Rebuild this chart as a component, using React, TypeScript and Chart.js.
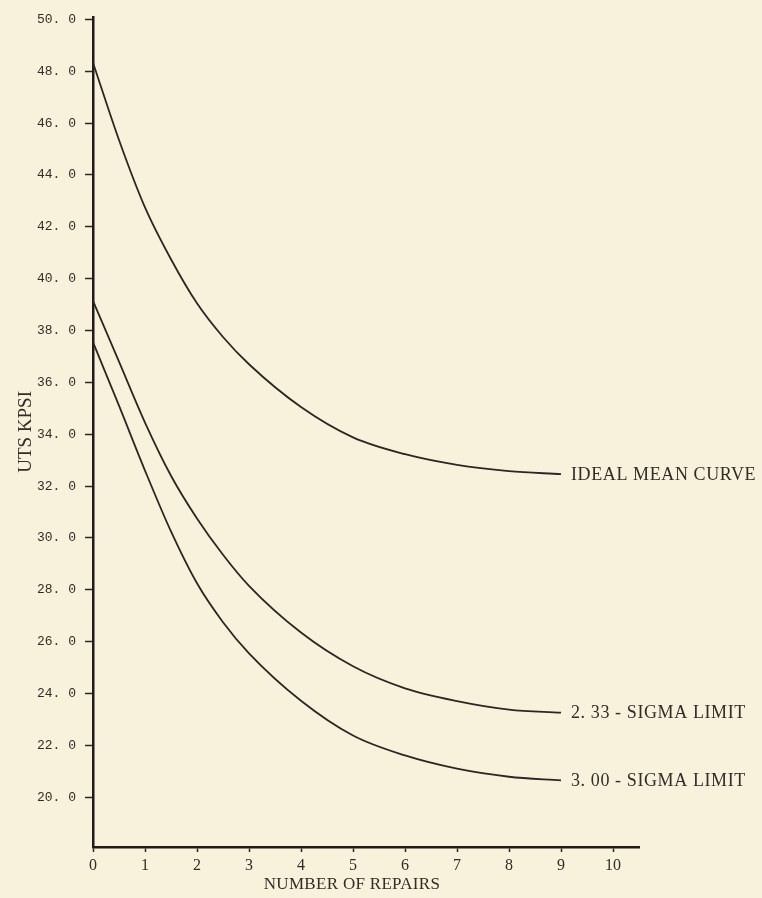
import React, { useEffect, useRef } from "react";
import { Chart, registerables } from "chart.js";

Chart.register(...registerables);

// ---- Data ----
const repairs = [0, 0.5, 1, 1.5, 2, 2.5, 3, 4, 5, 6, 7, 8, 9];
const idealMean = [48.33, 45.35, 42.75, 40.75, 39.05, 37.75, 36.7, 35.05, 33.88, 33.23, 32.82, 32.58, 32.46];
const sigma233 = [39.14, 36.8, 34.45, 32.4, 30.75, 29.35, 28.15, 26.35, 25.05, 24.2, 23.71, 23.38, 23.26];
const sigma300 = [37.55, 35.1, 32.6, 30.25, 28.25, 26.75, 25.55, 23.72, 22.38, 21.61, 21.1, 20.79, 20.65];
const curveLabels = ["IDEAL MEAN CURVE", "2. 33 - SIGMA LIMIT", "3. 00 - SIGMA LIMIT"];
const xTicks = [0, 1, 2, 3, 4, 5, 6, 7, 8, 9, 10];
const yTicks = [20, 22, 24, 26, 28, 30, 32, 34, 36, 38, 40, 42, 44, 46, 48, 50];
const xTitle = "NUMBER OF REPAIRS";
const yTitle = "UTS KPSI";

const INK = "#2b2723";
const TEXT = "#312c28";
const PAPER = "#f8f2dc";

const curveLabelPlugin = {
  id: "curveLabels",
  afterDatasetsDraw(chart: any) {
    const ctx = chart.ctx;
    ctx.save();
    ctx.fillStyle = TEXT;
    ctx.textBaseline = "middle";
    ctx.textAlign = "left";
    ctx.font = '18px "Liberation Serif"';
    try {
      (ctx as any).letterSpacing = "0.6px";
    } catch (e) {}
    chart.data.datasets.forEach((ds: any, i: number) => {
      const meta = chart.getDatasetMeta(i);
      const pt = meta.data[meta.data.length - 1];
      if (pt) ctx.fillText(ds.label, pt.x + 10, pt.y + 1);
    });
    // x-axis title, set slightly left of the plot centre as in the reference
    try {
      (ctx as any).letterSpacing = "0.3px";
    } catch (e) {}
    ctx.font = '17px "Liberation Serif"';
    ctx.textAlign = "center";
    const ca = chart.chartArea;
    ctx.fillText(xTitle, (ca.left + ca.right) / 2 - 14, chart.height - 13);
    ctx.restore();
  },
};

export default function App() {
  const canvasRef = useRef<HTMLCanvasElement | null>(null);

  useEffect(() => {
    if (!canvasRef.current) return;
    const series = [idealMean, sigma233, sigma300];
    const chart = new Chart(canvasRef.current, {
      type: "scatter",
      data: {
        datasets: series.map((vals, i) => ({
          label: curveLabels[i],
          data: repairs.map((x, j) => ({ x, y: vals[j] })),
          showLine: true,
          borderColor: INK,
          borderWidth: 1.8,
          pointRadius: 0,
          pointHoverRadius: 0,
          cubicInterpolationMode: "monotone" as const,
          fill: false,
        })),
      },
      options: {
        animation: false,
        responsive: true,
        maintainAspectRatio: false,
        layout: { padding: { left: 0, top: 10, right: 123, bottom: 0 } },
        plugins: {
          legend: { display: false },
          tooltip: { enabled: false },
        },
        events: [],
        scales: {
          x: {
            type: "linear",
            min: 0,
            max: 10.5,
            afterBuildTicks: (s: any) => {
              s.ticks = xTicks.map((v) => ({ value: v }));
            },
            afterFit: (s: any) => {
              s.height = 51;
            },
            ticks: {
              autoSkip: false,
              maxRotation: 0,
              padding: 4,
              color: TEXT,
              font: { family: '"Liberation Serif"', size: 16 },
              callback: (v: any) => String(v),
            },
            grid: {
              display: true,
              drawOnChartArea: false,
              drawTicks: true,
              tickLength: 5,
              tickColor: INK,
              tickWidth: 1.5,
            },
            border: { display: true, color: "#1f1b18", width: 2.5 },
            title: { display: false, text: xTitle },
          },
          y: {
            type: "linear",
            min: 18.08,
            max: 50.1,
            afterBuildTicks: (s: any) => {
              s.ticks = yTicks.map((v) => ({ value: v }));
            },
            afterFit: (s: any) => {
              s.width = 93;
            },
            ticks: {
              autoSkip: false,
              padding: 9,
              color: TEXT,
              font: { family: '"Liberation Mono"', size: 13 },
              callback: (v: any) => Number(v).toFixed(1).replace(".", ". "),
            },
            grid: {
              display: true,
              drawOnChartArea: false,
              drawTicks: true,
              tickLength: 8,
              tickColor: INK,
              tickWidth: 1.5,
            },
            border: { display: true, color: "#1f1b18", width: 2.5 },
            title: {
              display: true,
              text: yTitle,
              color: TEXT,
              font: { family: '"Liberation Serif"', size: 19 },
              padding: { top: 15, bottom: 0 },
            },
          },
        },
      },
      plugins: [curveLabelPlugin],
    } as any);
    return () => chart.destroy();
  }, []);

  return (
    <div
      style={{
        position: "absolute",
        left: 0,
        top: 0,
        width: 762,
        height: 898,
        background: PAPER,
      }}
    >
      <canvas ref={canvasRef} />
    </div>
  );
}
